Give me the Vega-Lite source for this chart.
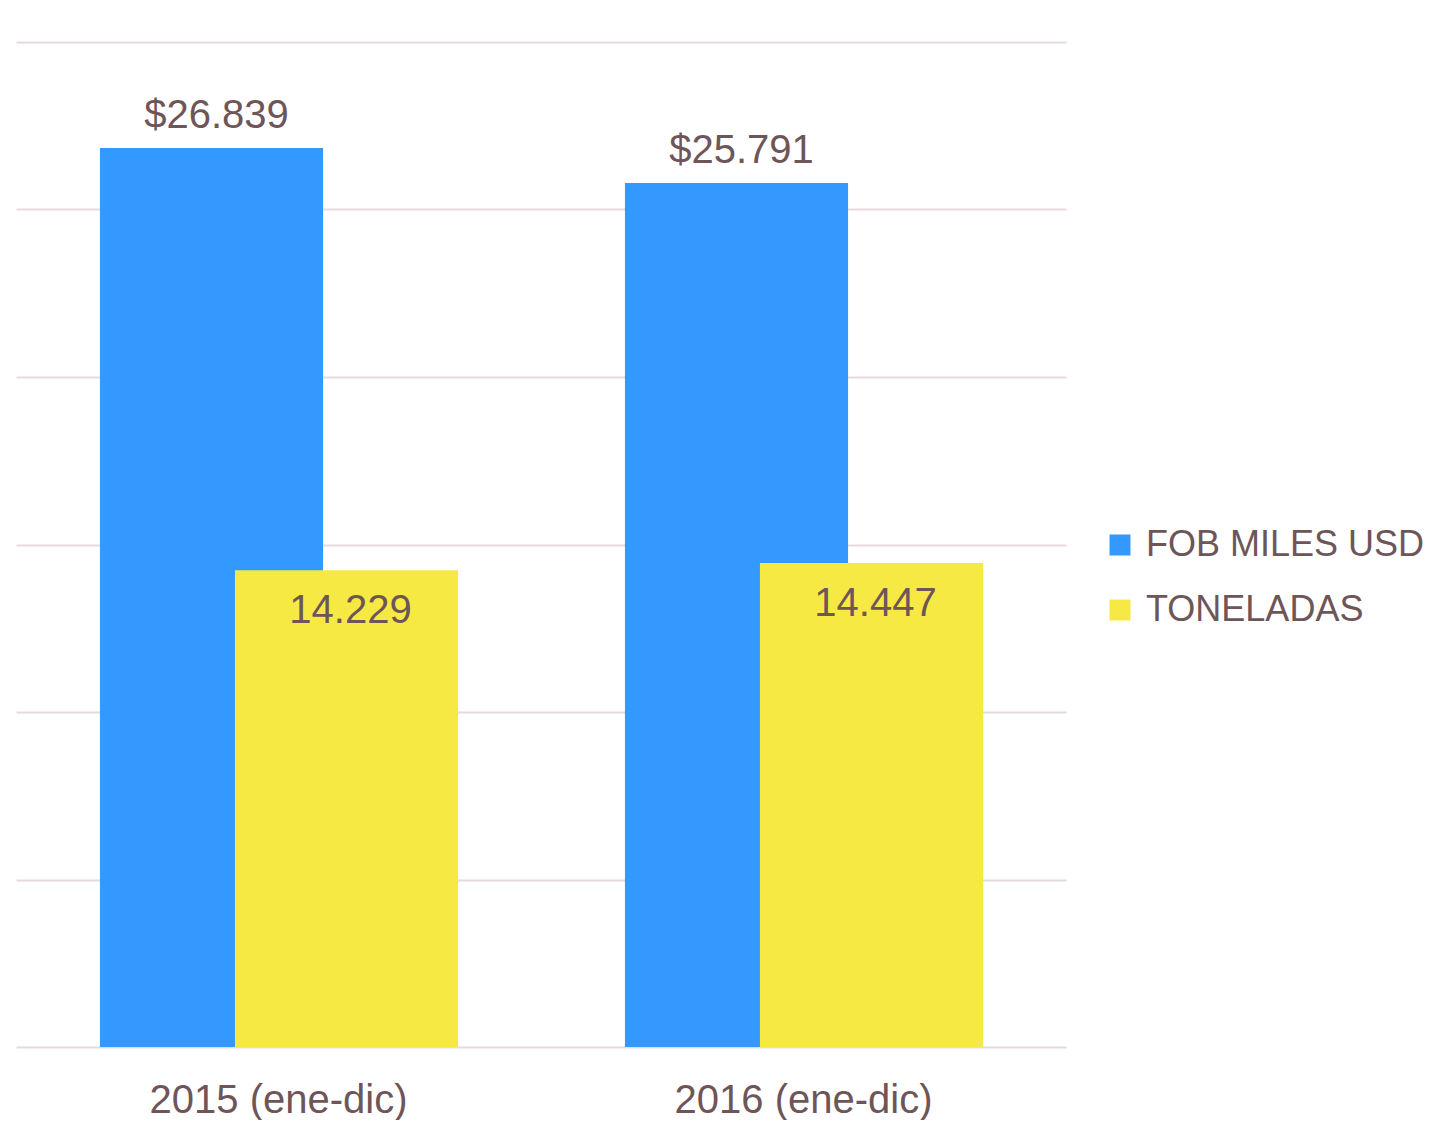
{
  "$schema": "https://vega.github.io/schema/vega-lite/v6.json",
  "width": 1050,
  "height": 1005,
  "padding": {"left": 16, "top": 42, "right": 0, "bottom": 0},
  "background": "white",
  "data": {"values": [
    {"year": "2015 (ene-dic)", "series": "FOB MILES USD", "value": 26839, "label": "$26.839"},
    {"year": "2016 (ene-dic)", "series": "FOB MILES USD", "value": 25791, "label": "$25.791"},
    {"year": "2015 (ene-dic)", "series": "TONELADAS", "value": 14229, "label": "14.229"},
    {"year": "2016 (ene-dic)", "series": "TONELADAS", "value": 14447, "label": "14.447"}
  ]},
  "config": {
    "view": {"stroke": null},
    "font": "Liberation Sans"
  },
  "encoding": {
    "x": {"field": "year", "type": "nominal", "sort": null,
      "scale": {"paddingInner": 0, "paddingOuter": 0},
      "axis": {"title": null, "labelAngle": 0, "labelFontSize": 40, "labelColor": "#6e5558",
        "labelPadding": 33, "labelLimit": 500, "ticks": false, "domain": false, "grid": false, "labelFont": "Liberation Sans"}},
    "y": {"field": "value", "type": "quantitative",
      "scale": {"domain": [0, 30000], "nice": false},
      "axis": {"title": null, "labels": false, "ticks": false, "domain": false,
        "values": [0, 5000, 10000, 15000, 20000, 25000, 30000],
        "grid": true, "gridColor": "#e6dadd", "gridWidth": 2}}
  },
  "layer": [
    {
      "transform": [{"filter": "datum.series === 'FOB MILES USD'"}],
      "layer": [
        {
          "mark": {"type": "bar", "width": {"band": 0.425}, "xOffset": -67},
          "encoding": {
            "color": {"field": "series", "type": "nominal",
              "scale": {"domain": ["FOB MILES USD", "TONELADAS"], "range": ["#3399ff", "#f7e943"]},
              "legend": {"title": null, "orient": "none", "legendX": 1086, "legendY": 485,
                "symbolType": "square", "symbolSize": 441, "symbolStrokeWidth": 0,
                "labelFontSize": 36, "labelColor": "#6e5558", "labelFont": "Liberation Sans",
                "rowPadding": 29, "labelOffset": 8, "labelLimit": 400}}
          }
        },
        {
          "mark": {"type": "text", "fontSize": 40, "color": "#6e5558", "baseline": "alphabetic",
            "align": "center", "dy": -20, "xOffset": -62},
          "encoding": {"text": {"field": "label"}}
        }
      ]
    },
    {
      "transform": [{"filter": "datum.series === 'TONELADAS'"}],
      "layer": [
        {
          "mark": {"type": "bar", "width": {"band": 0.425}, "xOffset": 68},
          "encoding": {
            "color": {"field": "series", "type": "nominal"}
          }
        },
        {
          "mark": {"type": "text", "fontSize": 40, "color": "#6e5558", "baseline": "alphabetic",
            "align": "center", "dy": 53, "xOffset": 72},
          "encoding": {"text": {"field": "label"}}
        }
      ]
    }
  ]
}
